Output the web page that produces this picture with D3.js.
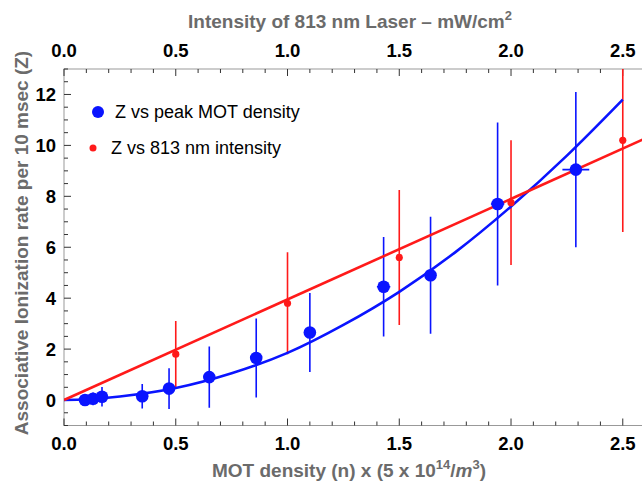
<!DOCTYPE html>
<html>
<head>
<meta charset="utf-8">
<script src="https://cdn.jsdelivr.net/npm/d3@7"></script>
<style>
  body { margin: 0; background: #fff; }
  svg { display: block; font-family: "Liberation Sans", Arial, sans-serif; }
</style>
</head>
<body>
<svg id="chart"></svg>
<script>
// Datos: Z vs densidad MOT (azul)
const densX    = [0.094, 0.13, 0.17, 0.35, 0.47, 0.65, 0.86, 1.10, 1.43, 1.64, 1.94, 2.29];
const densZ    = [0.0, 0.05, 0.13, 0.15, 0.45, 0.9, 1.65, 2.65, 4.45, 4.9, 7.7, 9.05];
const densErrY = [0.1, 0.25, 0.38, 0.48, 0.8, 1.2, 1.55, 1.55, 1.95, 2.3, 3.2, 3.05];
const densErrX = [0.01, 0.01, 0.01, 0.01, 0.01, 0.01, 0.01, 0.01, 0.03, 0.01, 0.03, 0.06];

// Datos: Z vs intensidad 813 nm (rojo)
const intX    = [0.5, 1.0, 1.5, 2.0, 2.5];
const intZ    = [1.8, 3.8, 5.6, 7.75, 10.2];
const intErrY = [1.3, 2.0, 2.65, 2.45, 3.6];

// Curvas de ajuste
const fitBlueX = [0, 0.1, 0.25, 0.5, 0.75, 1.0, 1.25, 1.5, 1.75, 2.0, 2.25, 2.5];
const fitBlueY = [0, 0.03, 0.14, 0.47, 1.05, 1.85, 2.95, 4.25, 5.8, 7.6, 9.6, 11.8];
const fitRedX  = [0, 2.6];
const fitRedY  = [0, 10.27];

// Ejes
const xTicks = [0.0, 0.5, 1.0, 1.5, 2.0, 2.5];
const yTicks = [0, 2, 4, 6, 8, 10, 12];

const width = 642;
const height = 485;
const mLeft = 64, mRight = 642, mTop = 69, mBottom = 425.5;

const svg = d3.select("#chart")
    .attr("width", width)
    .attr("height", height);

const xScale = d3.scaleLinear().domain([0, 2.586]).range([mLeft, mRight]);
const yScale = d3.scaleLinear().domain([-1, 13]).range([mBottom, mTop]);

const blue = "#0a14ff";
const red = "#ff1a1a";

svg.append("clipPath").attr("id", "clip")
    .append("rect")
    .attr("x", mLeft).attr("y", mTop)
    .attr("width", mRight - mLeft).attr("height", mBottom - mTop);

// Marco y marcas
const frame = svg.append("g");
frame.append("rect")
    .attr("x", mLeft).attr("y", mTop)
    .attr("width", mRight - mLeft + 2).attr("height", mBottom - mTop)
    .attr("fill", "none").attr("stroke", "#999").attr("stroke-width", 1);

const xMinor = d3.range(0, 26).map(i => i / 10);
const yMinor = d3.range(-2, 27).map(i => i / 2);

const xMajorSet = new Set(xTicks.map(d => d.toFixed(1)));
frame.selectAll(".xt")
    .data(xMinor)
    .enter()
    .append("line")
    .attr("x1", d => xScale(d)).attr("x2", d => xScale(d))
    .attr("y1", mBottom)
    .attr("y2", d => mBottom - (xMajorSet.has(d.toFixed(1)) ? 7 : 4))
    .attr("stroke", "#333");
frame.selectAll(".xtt")
    .data(xMinor)
    .enter()
    .append("line")
    .attr("x1", d => xScale(d)).attr("x2", d => xScale(d))
    .attr("y1", mTop)
    .attr("y2", d => mTop + (xMajorSet.has(d.toFixed(1)) ? 7 : 4))
    .attr("stroke", "#333");
frame.selectAll(".yt")
    .data(yMinor)
    .enter()
    .append("line")
    .attr("y1", d => yScale(d)).attr("y2", d => yScale(d))
    .attr("x1", mLeft)
    .attr("x2", d => mLeft + (d % 2 === 0 ? 7 : 4))
    .attr("stroke", "#333");

// Etiquetas de marcas
const tickFont = "bold 18.5px 'Liberation Sans', Arial, sans-serif";
svg.selectAll(".xl")
    .data(xTicks)
    .enter()
    .append("text")
    .attr("x", d => xScale(d)).attr("y", 450)
    .attr("text-anchor", "middle")
    .style("font", tickFont)
    .text(d => d.toFixed(1));
svg.selectAll(".xlt")
    .data(xTicks)
    .enter()
    .append("text")
    .attr("x", d => xScale(d)).attr("y", 57)
    .attr("text-anchor", "middle")
    .style("font", tickFont)
    .text(d => d.toFixed(1));
svg.selectAll(".yl")
    .data(yTicks)
    .enter()
    .append("text")
    .attr("x", 56).attr("y", d => yScale(d) + 6.5)
    .attr("text-anchor", "end")
    .style("font", tickFont)
    .text(d => d);

// Títulos de ejes
const titleColor = "#6b6b6b";
const titleFont = "bold 19px 'Liberation Sans', Arial, sans-serif";
const topTitle = svg.append("text")
    .attr("x", 350).attr("y", 28)
    .attr("text-anchor", "middle")
    .attr("fill", titleColor)
    .style("font", titleFont);
topTitle.append("tspan").text("Intensity of 813 nm Laser \u2013 mW/cm");
topTitle.append("tspan").attr("dy", -8).style("font-size", "13px").text("2");

const botTitle = svg.append("text")
    .attr("x", 349).attr("y", 477)
    .attr("text-anchor", "middle")
    .attr("fill", titleColor)
    .style("font", titleFont);
botTitle.append("tspan").text("MOT density (n) x (5 x 10");
botTitle.append("tspan").attr("dy", -8).style("font-size", "13px").text("14");
botTitle.append("tspan").attr("dy", 8).text("/");
botTitle.append("tspan").style("font-style", "italic").text("m");
botTitle.append("tspan").attr("dy", -8).style("font-size", "13px").text("3");
botTitle.append("tspan").attr("dy", 8).text(")");

svg.append("text")
    .attr("transform", "translate(28,243) rotate(-90)")
    .attr("text-anchor", "middle")
    .attr("fill", titleColor)
    .style("font", titleFont)
    .text("Associative Ionization rate per 10 msec (Z)");

// Área de datos
const plot = svg.append("g").attr("clip-path", "url(#clip)");

const line = d3.line()
    .x(d => xScale(d[0]))
    .y(d => yScale(d[1]));

const densData = densX.map((x, i) => ({ x, z: densZ[i], ey: densErrY[i], ex: densErrX[i] }));
const intData = intX.map((x, i) => ({ x, z: intZ[i], ey: intErrY[i] }));

// Barras de error
plot.selectAll(".bev")
    .data(densData)
    .enter()
    .append("line")
    .attr("x1", d => xScale(d.x)).attr("x2", d => xScale(d.x))
    .attr("y1", d => yScale(d.z - d.ey)).attr("y2", d => yScale(d.z + d.ey))
    .attr("stroke", blue).attr("stroke-width", 1.6);
plot.selectAll(".beh")
    .data(densData)
    .enter()
    .append("line")
    .attr("x1", d => xScale(d.x - d.ex)).attr("x2", d => xScale(d.x + d.ex))
    .attr("y1", d => yScale(d.z)).attr("y2", d => yScale(d.z))
    .attr("stroke", blue).attr("stroke-width", 1.6);

plot.selectAll(".rev")
    .data(intData)
    .enter()
    .append("line")
    .attr("x1", d => xScale(d.x)).attr("x2", d => xScale(d.x))
    .attr("y1", d => yScale(d.z - d.ey)).attr("y2", d => yScale(d.z + d.ey))
    .attr("stroke", red).attr("stroke-width", 1.6);

// Curvas de ajuste
plot.append("path")
    .datum(fitBlueX.map((x, i) => [x, fitBlueY[i]]))
    .attr("d", line.curve(d3.curveMonotoneX))
    .attr("fill", "none").attr("stroke", blue).attr("stroke-width", 2.6);
plot.append("path")
    .datum(fitRedX.map((x, i) => [x, fitRedY[i]]))
    .attr("d", line.curve(d3.curveLinear))
    .attr("fill", "none").attr("stroke", red).attr("stroke-width", 2.6);

// Puntos
plot.selectAll(".bdot")
    .data(densData)
    .enter()
    .append("circle")
    .attr("cx", d => xScale(d.x)).attr("cy", d => yScale(d.z))
    .attr("r", 6.3)
    .attr("fill", blue);
plot.selectAll(".rdot")
    .data(intData)
    .enter()
    .append("circle")
    .attr("cx", d => xScale(d.x)).attr("cy", d => yScale(d.z))
    .attr("r", 3.6)
    .attr("fill", red);

// Leyenda
const legendFont = "18px 'Liberation Sans', Arial, sans-serif";
const legend = svg.append("g");
legend.append("circle").attr("cx", 98).attr("cy", 112).attr("r", 6).attr("fill", blue);
legend.append("text").attr("x", 115).attr("y", 118)
    .style("font", legendFont)
    .text("Z vs peak MOT density");
legend.append("circle").attr("cx", 93).attr("cy", 148).attr("r", 3.5).attr("fill", red);
legend.append("text").attr("x", 111).attr("y", 154)
    .style("font", legendFont)
    .text("Z vs 813 nm intensity");
</script>
</body>
</html>
